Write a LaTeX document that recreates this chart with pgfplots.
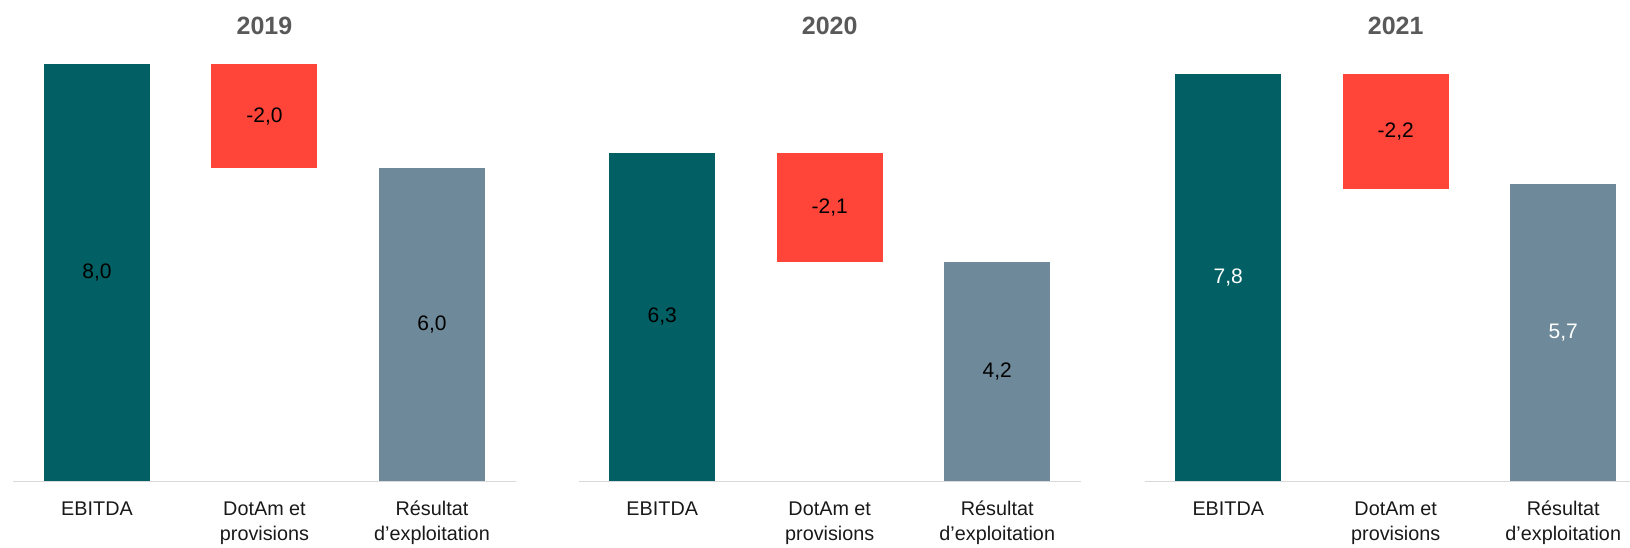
\documentclass[border=0pt]{standalone}
\usepackage{fontspec}
\setmainfont{Liberation Sans}
\usepackage{pgfplots}
\pgfplotsset{compat=1.18}
\definecolor{cteal}{HTML}{026064}
\definecolor{cred}{HTML}{FF453A}
\definecolor{cgray}{HTML}{6E8A9A}
\definecolor{caxis}{HTML}{D9D9D9}
\definecolor{ctitle}{HTML}{595959}
\pgfplotsset{
  geom/.style={
    scale only axis, width=251.25pt, height=208.65pt,
    anchor=south west,
    xmin=-0.5, xmax=2.5, ymin=0, ymax=8.0,
    clip=false,
  },
  wf/.style={
    geom,
    ybar stacked, bar width=53pt,
    axis y line=none, axis x line*=bottom,
    x axis line style={draw=caxis, line width=0.8pt, -},
    ytick=\empty,
    xtick={0,1,2}, xtick style={draw=none}, major tick length=0pt,
    xticklabels={\strut EBITDA, \strut DotAm et\\provisions, \strut Résultat\\d’exploitation},
    xticklabel style={align=center, font=\fontsize{9.9pt}{12.5pt}\selectfont, text=black!90, anchor=north, inner sep=0pt, yshift=-8.1pt},
    title style={font=\fontsize{12.5pt}{14pt}\selectfont\bfseries, text=ctitle, anchor=center, at={(0.5,1)}, yshift=13.3pt},
  },
  lab/.style={
    geom, hide axis,
    nodes near coords align={anchor=center},
    every node near coord/.append style={anchor=center, font=\fontsize{10.5pt}{12.5pt}\selectfont, inner sep=0pt},
  },
}
\pgfplotstableread{
x y lab
0 4.0 8,0
1 7.0 -2,0
2 3.0 6,0
}\labA
\pgfplotstableread{
x y lab
0 3.15 6,3
1 5.25 -2,1
2 2.1 4,2
}\labB
\pgfplotstableread{
x y lab
1 6.7 -2,2
}\labC
\pgfplotstableread{
x y lab
0 3.9 7,8
2 2.85 5,7
}\labCw
\begin{document}
\begin{tikzpicture}
% ---------- 2019
\begin{axis}[wf, at={(6.625pt,32.85pt)}, title={2019}]
\addplot[fill=cteal, draw=none] coordinates {(0,8.0) (1,0) (2,0)};
\addplot[fill=none, draw=none] coordinates {(0,0) (1,6.0) (2,0)};
\addplot[fill=cred, draw=none] coordinates {(0,0) (1,2.0) (2,0)};
\addplot[fill=cgray, draw=none] coordinates {(0,0) (1,0) (2,6.0)};
\end{axis}
\begin{axis}[lab, at={(6.625pt,32.85pt)}]
\addplot[only marks, mark=*, mark size=0pt, mark options={draw=none, fill=none}, nodes near coords, point meta=explicit symbolic, every node near coord/.append style={text=black}] table[meta=lab] {\labA};
\end{axis}
% ---------- 2020
\begin{axis}[wf, at={(289.25pt,32.85pt)}, title={2020}]
\addplot[fill=cteal, draw=none] coordinates {(0,6.3) (1,0) (2,0)};
\addplot[fill=none, draw=none] coordinates {(0,0) (1,4.2) (2,0)};
\addplot[fill=cred, draw=none] coordinates {(0,0) (1,2.1) (2,0)};
\addplot[fill=cgray, draw=none] coordinates {(0,0) (1,0) (2,4.2)};
\end{axis}
\begin{axis}[lab, at={(289.25pt,32.85pt)}]
\addplot[only marks, mark=*, mark size=0pt, mark options={draw=none, fill=none}, nodes near coords, point meta=explicit symbolic, every node near coord/.append style={text=black}] table[meta=lab] {\labB};
\end{axis}
% ---------- 2021
\begin{axis}[wf, at={(572.25pt,32.85pt)}, title={2021}]
\addplot[fill=cteal, draw=none] coordinates {(0,7.8) (1,0) (2,0)};
\addplot[fill=none, draw=none] coordinates {(0,0) (1,5.6) (2,0)};
\addplot[fill=cred, draw=none] coordinates {(0,0) (1,2.2) (2,0)};
\addplot[fill=cgray, draw=none] coordinates {(0,0) (1,0) (2,5.7)};
\end{axis}
\begin{axis}[lab, at={(572.25pt,32.85pt)}]
\addplot[only marks, mark=*, mark size=0pt, mark options={draw=none, fill=none}, nodes near coords, point meta=explicit symbolic, every node near coord/.append style={text=black}] table[meta=lab] {\labC};
\addplot[only marks, mark=*, mark size=0pt, mark options={draw=none, fill=none}, nodes near coords, point meta=explicit symbolic, every node near coord/.append style={text=white}] table[meta=lab] {\labCw};
\end{axis}
\pgfresetboundingbox
\path[use as bounding box] (0,0) rectangle (815pt,273.5pt);
\end{tikzpicture}
\end{document}
